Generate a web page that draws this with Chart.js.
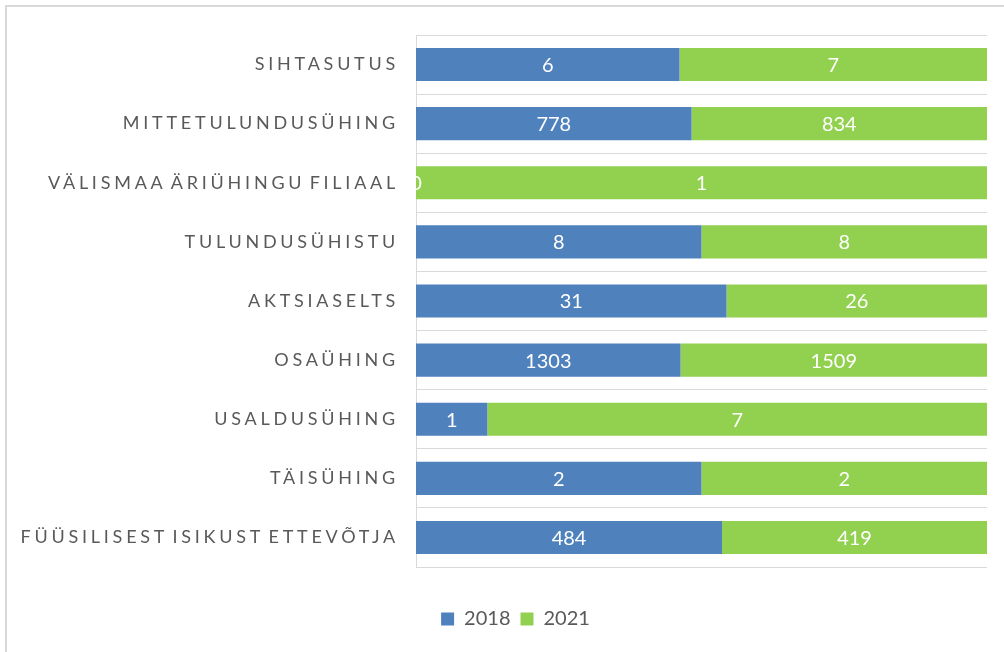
<!DOCTYPE html>
<html>
<head>
<meta charset="utf-8">
<script src="https://cdn.jsdelivr.net/npm/chart.js@4/dist/chart.umd.min.js"></script>
<style>
  html, body { margin: 0; padding: 0; background: #ffffff; }
  #wrap { position: relative; width: 1004px; height: 652px; }
</style>
</head>
<body>
<div id="wrap"><canvas id="c" width="1004" height="652"></canvas></div>
<script>
const categories = [
  "SIHTASUTUS",
  "MITTETULUNDUSÜHING",
  "VÄLISMAA ÄRIÜHINGU FILIAAL",
  "TULUNDUSÜHISTU",
  "AKTSIASELTS",
  "OSAÜHING",
  "USALDUSÜHING",
  "TÄISÜHING",
  "FÜÜSILISEST ISIKUST ETTEVÕTJA"
];
const seriesNames = ["2018", "2021"];
const values2018 = [6, 778, 0, 8, 31, 1303, 1, 2, 484];
const values2021 = [7, 834, 1, 8, 26, 1509, 7, 2, 419];

const totals = values2018.map((v, i) => v + values2021[i]);
const pct2018 = values2018.map((v, i) => v / totals[i] * 100);
const pct2021 = values2021.map((v, i) => v / totals[i] * 100);
const rawValues = [values2018, values2021];

const FONT = "Lato, 'Open Sans', sans-serif";

const framePlugin = {
  id: 'frame',
  afterLayout(chart) {
    // let the category labels use the space left of the padding (no clipping)
    const y = chart.scales.y;
    y.left = 0;
    y.width = y.right;
  },
  beforeDraw(chart) {
    const ctx = chart.ctx;
    ctx.save();
    ctx.fillStyle = '#ffffff';
    ctx.fillRect(0, 0, chart.width, chart.height);
    ctx.strokeStyle = '#d9d9d9';
    ctx.lineWidth = 2;
    ctx.beginPath();
    ctx.moveTo(6, chart.height);
    ctx.lineTo(6, 6);
    ctx.lineTo(chart.width, 6);
    ctx.stroke();
    ctx.restore();
  },
  afterDatasetsDraw(chart) {
    const ctx = chart.ctx;
    ctx.save();
    ctx.font = "20px " + FONT;
    ctx.fillStyle = '#ffffff';
    ctx.textAlign = 'center';
    ctx.textBaseline = 'middle';
    chart.data.datasets.forEach((ds, di) => {
      const meta = chart.getDatasetMeta(di);
      meta.data.forEach((bar, i) => {
        const p = bar.getProps(['x', 'base', 'y'], true);
        const cx = (p.x + p.base) / 2;
        ctx.fillText(String(rawValues[di][i]), cx, p.y + 1);
      });
    });
    ctx.restore();
    // letter spacing for the category tick labels (drawn on a later layer)
    chart.ctx.letterSpacing = '3.75px';
    chart.ctx.wordSpacing = '-4px';
  },
  afterDraw(chart) {
    chart.ctx.letterSpacing = '0px';
    chart.ctx.wordSpacing = '0px';
  }
};

new Chart(document.getElementById('c'), {
  type: 'bar',
  data: {
    labels: categories,
    datasets: [
      { label: seriesNames[0], data: pct2018, backgroundColor: '#4F81BD', borderWidth: 0,
        categoryPercentage: 1, barPercentage: 0.56 },
      { label: seriesNames[1], data: pct2021, backgroundColor: '#92D050', borderWidth: 0,
        categoryPercentage: 1, barPercentage: 0.56 }
    ]
  },
  options: {
    indexAxis: 'y',
    responsive: false,
    animation: false,
    devicePixelRatio: 1,
    layout: { padding: { top: 35, left: 44, right: 17, bottom: 13 } },
    scales: {
      x: {
        stacked: true,
        min: 0,
        max: 100,
        display: true,
        ticks: { display: false },
        grid: { display: false },
        border: { display: false },
        afterFit(s) { s.height = 32; }
      },
      y: {
        stacked: true,
        offset: true,
        grid: { display: true, offset: true, color: '#d9d9d9', lineWidth: 1, drawTicks: false },
        border: { display: true, color: '#d9d9d9', width: 1 },
        ticks: {
          z: 1,
          padding: 17,
          color: '#595959',
          font: { family: FONT, size: 18 }
        },
        afterFit(s) { s.width = 372; }
      }
    },
    plugins: {
      legend: {
        position: 'bottom',
        labels: {
          boxWidth: 13,
          boxHeight: 13,
          padding: 10,
          color: '#595959',
          font: { family: FONT, size: 20 }
        }
      },
      tooltip: { enabled: false }
    }
  },
  plugins: [framePlugin]
});
</script>
</body>
</html>
